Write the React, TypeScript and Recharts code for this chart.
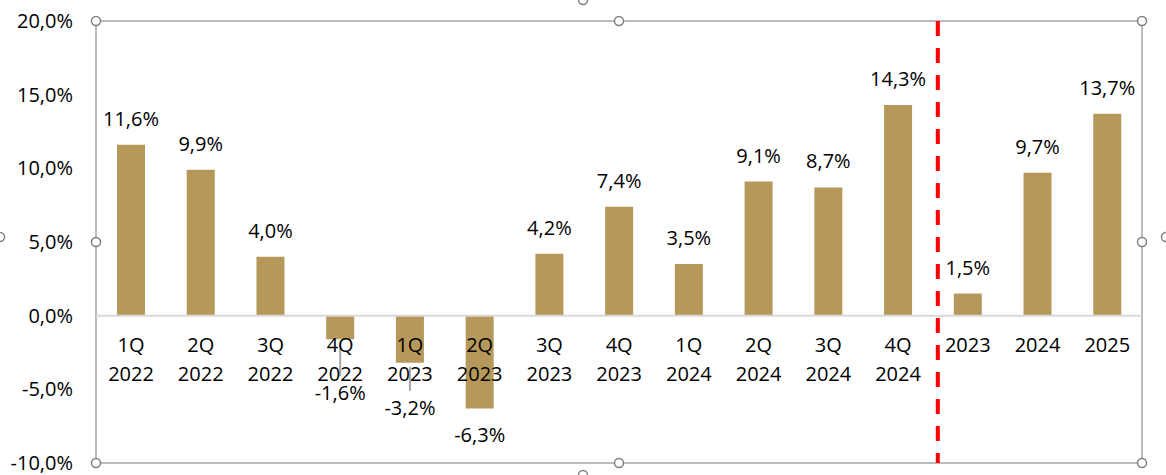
import React from "react";
import {
  BarChart,
  Bar,
  XAxis,
  YAxis,
  CartesianGrid,
  ReferenceLine,
  ReferenceDot,
  LabelList,
} from "recharts";

// quarterly + annual growth
const categories = [
  "1Q 2022", "2Q 2022", "3Q 2022", "4Q 2022",
  "1Q 2023", "2Q 2023", "3Q 2023", "4Q 2023",
  "1Q 2024", "2Q 2024", "3Q 2024", "4Q 2024",
  "2023", "2024", "2025",
];
const growth = [11.6, 9.9, 4.0, -1.6, -3.2, -6.3, 4.2, 7.4, 3.5, 9.1, 8.7, 14.3, 1.5, 9.7, 13.7];
const yTicks = [-10, -5, 0, 5, 10, 15, 20];

const data = categories.map((cat, i) => ({ cat, value: growth[i] }));

const CHART_W = 1166;
const CHART_H = 475;
const MARGIN = { top: 21, right: 24, bottom: 12, left: 0 };
const Y_AXIS_W = 96;
const HALF_BAND = (CHART_W - Y_AXIS_W - MARGIN.right) / categories.length / 2;

const BAR_COLOR = "#B5985A";
const FONT = "'Open Sans', 'Liberation Sans', sans-serif";
const FONT_SIZE = 20;

// negative labels that were dragged down in the original (with leader lines)
const labelDrop: Record<string, number> = { "4Q 2022": 61, "1Q 2023": 52 };

const fmt = (v: number) => v.toFixed(1).replace(".", ",") + "%";

function Txt({ x, y, anchor = "middle", children }: any) {
  return (
    <text x={x} y={y} textAnchor={anchor} fontFamily={FONT} fontSize={FONT_SIZE} fill="#000">
      {children}
    </text>
  );
}

function barBox(props: any) {
  const vb = props.viewBox || props;
  const x = Number(vb.x), y = Number(vb.y), w = Number(vb.width), h = Number(vb.height);
  const top = Math.min(y, y + h);
  const bottom = Math.max(y, y + h);
  return { cx: x + w / 2, top, bottom };
}

const ValueLabel = (props: any) => {
  const idx = props.index;
  const v = growth[idx];
  if (v === undefined) return null;
  const { cx, top, bottom } = barBox(props);
  if (v >= 0) {
    return <Txt x={cx} y={top - 19}>{fmt(v)}</Txt>;
  }
  const drop = labelDrop[categories[idx]];
  const base = bottom + (drop ?? 34);
  return (
    <g>
      {drop !== undefined && (
        <line x1={cx} x2={cx} y1={bottom + 4} y2={base - 24} stroke="#A6A6A6" strokeWidth={2} />
      )}
      <Txt x={cx} y={base}>{fmt(v)}</Txt>
    </g>
  );
};

const CategoryLabel = (props: any) => {
  const idx = props.index;
  const v = growth[idx];
  const cat = categories[idx];
  if (cat === undefined) return null;
  const { cx, top, bottom } = barBox(props);
  const zero = v >= 0 ? bottom : top;
  const lines = cat.split(" ");
  return (
    <g>
      {lines.map((ln, i) => (
        <Txt key={i} x={cx} y={zero + 36 + i * 29}>{ln}</Txt>
      ))}
    </g>
  );
};

const YTick = (props: any) => {
  const { x, y, payload } = props;
  return (
    <Txt x={x - 23} y={y + 7} anchor="end">{fmt(payload.value)}</Txt>
  );
};

const Handle = ({ cx, cy }: any) => (
  <circle cx={cx} cy={cy} r={4.5} fill="#fff" stroke="#7F7F7F" strokeWidth={1.5} />
);

// handles on the plot-area frame: at band edges / centre of the category axis
const plotHandles = [
  { cat: "1Q 2022", shift: -1, y: 20 }, { cat: "4Q 2023", shift: 0, y: 20 }, { cat: "2025", shift: 1, y: 20 },
  { cat: "1Q 2022", shift: -1, y: 5 }, { cat: "2025", shift: 1, y: 5 },
  { cat: "1Q 2022", shift: -1, y: -10 }, { cat: "4Q 2023", shift: 0, y: -10 }, { cat: "2025", shift: 1, y: -10 },
];

// outer chart-frame handles, cut in half by the picture edges
const OuterHandles = () => (
  <g>
    <Handle cx={0} cy={237} />
    <Handle cx={CHART_W} cy={237} />
    <Handle cx={CHART_W / 2} cy={0} />
    <Handle cx={CHART_W / 2} cy={CHART_H} />
  </g>
);

const gridH = (p: any) => {
  const o = p.offset || p;
  return [o.top, o.top + o.height];
};
const gridV = (p: any) => {
  const o = p.offset || p;
  return [o.left, o.left + o.width];
};

// the divider sits a little right of the band edge in the original
const Divider = (p: any) => (
  <line
    x1={p.x1 + 5}
    x2={p.x2 + 5}
    y1={p.y1}
    y2={p.y2}
    stroke="#FF0000"
    strokeWidth={4}
    strokeDasharray="15 12"
    strokeDashoffset={5}
  />
);

export default function App() {
  return (
    <div style={{ position: "absolute", left: 0, top: 0, width: CHART_W, height: CHART_H, background: "#fff" }}>
      <BarChart width={CHART_W} height={CHART_H} data={data} margin={MARGIN}>
        <CartesianGrid
          stroke="#A6A6A6"
          strokeWidth={1.5}
          horizontalCoordinatesGenerator={gridH}
          verticalCoordinatesGenerator={gridV}
        />
        <XAxis dataKey="cat" hide />
        <YAxis
          width={Y_AXIS_W}
          domain={[-10, 20]}
          ticks={yTicks}
          axisLine={false}
          tickLine={false}
          tickSize={0}
          tickMargin={0}
          tick={<YTick />}
          interval={0}
        />
        <ReferenceLine y={0} stroke="#D9D9D9" strokeWidth={2} />
        <Bar dataKey="value" fill={BAR_COLOR} barSize={28} isAnimationActive={false}>
          <LabelList dataKey="value" content={<ValueLabel />} />
          <LabelList dataKey="cat" content={<CategoryLabel />} />
        </Bar>
        <ReferenceLine
          x="2023"
          position="start"
          segment={[{ x: "2023", y: 21.43 }, { x: "2023", y: -10.81 }]}
          ifOverflow="visible"
          shape={<Divider />}
        />
        {plotHandles.map((h, i) => (
          <ReferenceDot
            key={i}
            x={h.cat}
            y={h.y}
            r={4.5}
            ifOverflow="visible"
            shape={(p: any) => <Handle cx={p.cx + h.shift * HALF_BAND} cy={p.cy} />}
          />
        ))}
        <ReferenceDot x="4Q 2023" y={5} r={0} ifOverflow="visible" shape={() => <OuterHandles />} />
      </BarChart>
    </div>
  );
}
